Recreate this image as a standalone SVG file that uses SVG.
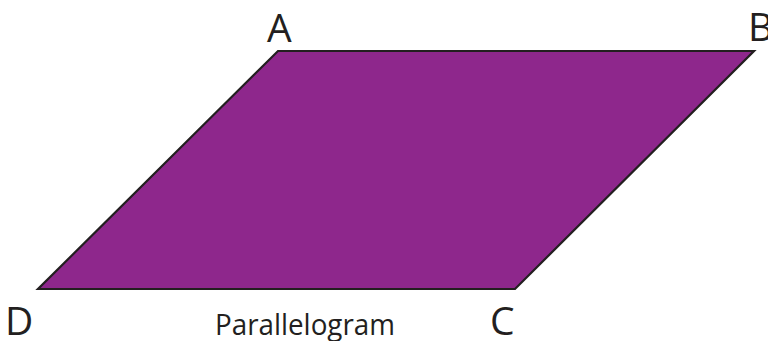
<svg xmlns="http://www.w3.org/2000/svg" width="768" height="341" viewBox="0 0 768 341">
<style>
.lbl{font-family:"Open Sans","Liberation Sans",sans-serif;fill:#231f20}
.v{font-size:39px}
.cap{font-size:28.5px}
</style>
<rect width="768" height="341" fill="#fff"/>
<g id="parallelogram">
<polygon points="278,51 754,51 515,289 38,289" fill="#8e278c" stroke="#231f20" stroke-width="2.2" stroke-linejoin="miter"/>
</g>
<g id="labels">
<text class="lbl v" x="267" y="42">A</text>
<text class="lbl v" x="748" y="41">B</text>
<text class="lbl v" x="5" y="335">D</text>
<text class="lbl v" x="490" y="335">C</text>
<text class="lbl cap" x="215" y="335" textLength="180" lengthAdjust="spacingAndGlyphs">Parallelogram</text>
</g>
</svg>
